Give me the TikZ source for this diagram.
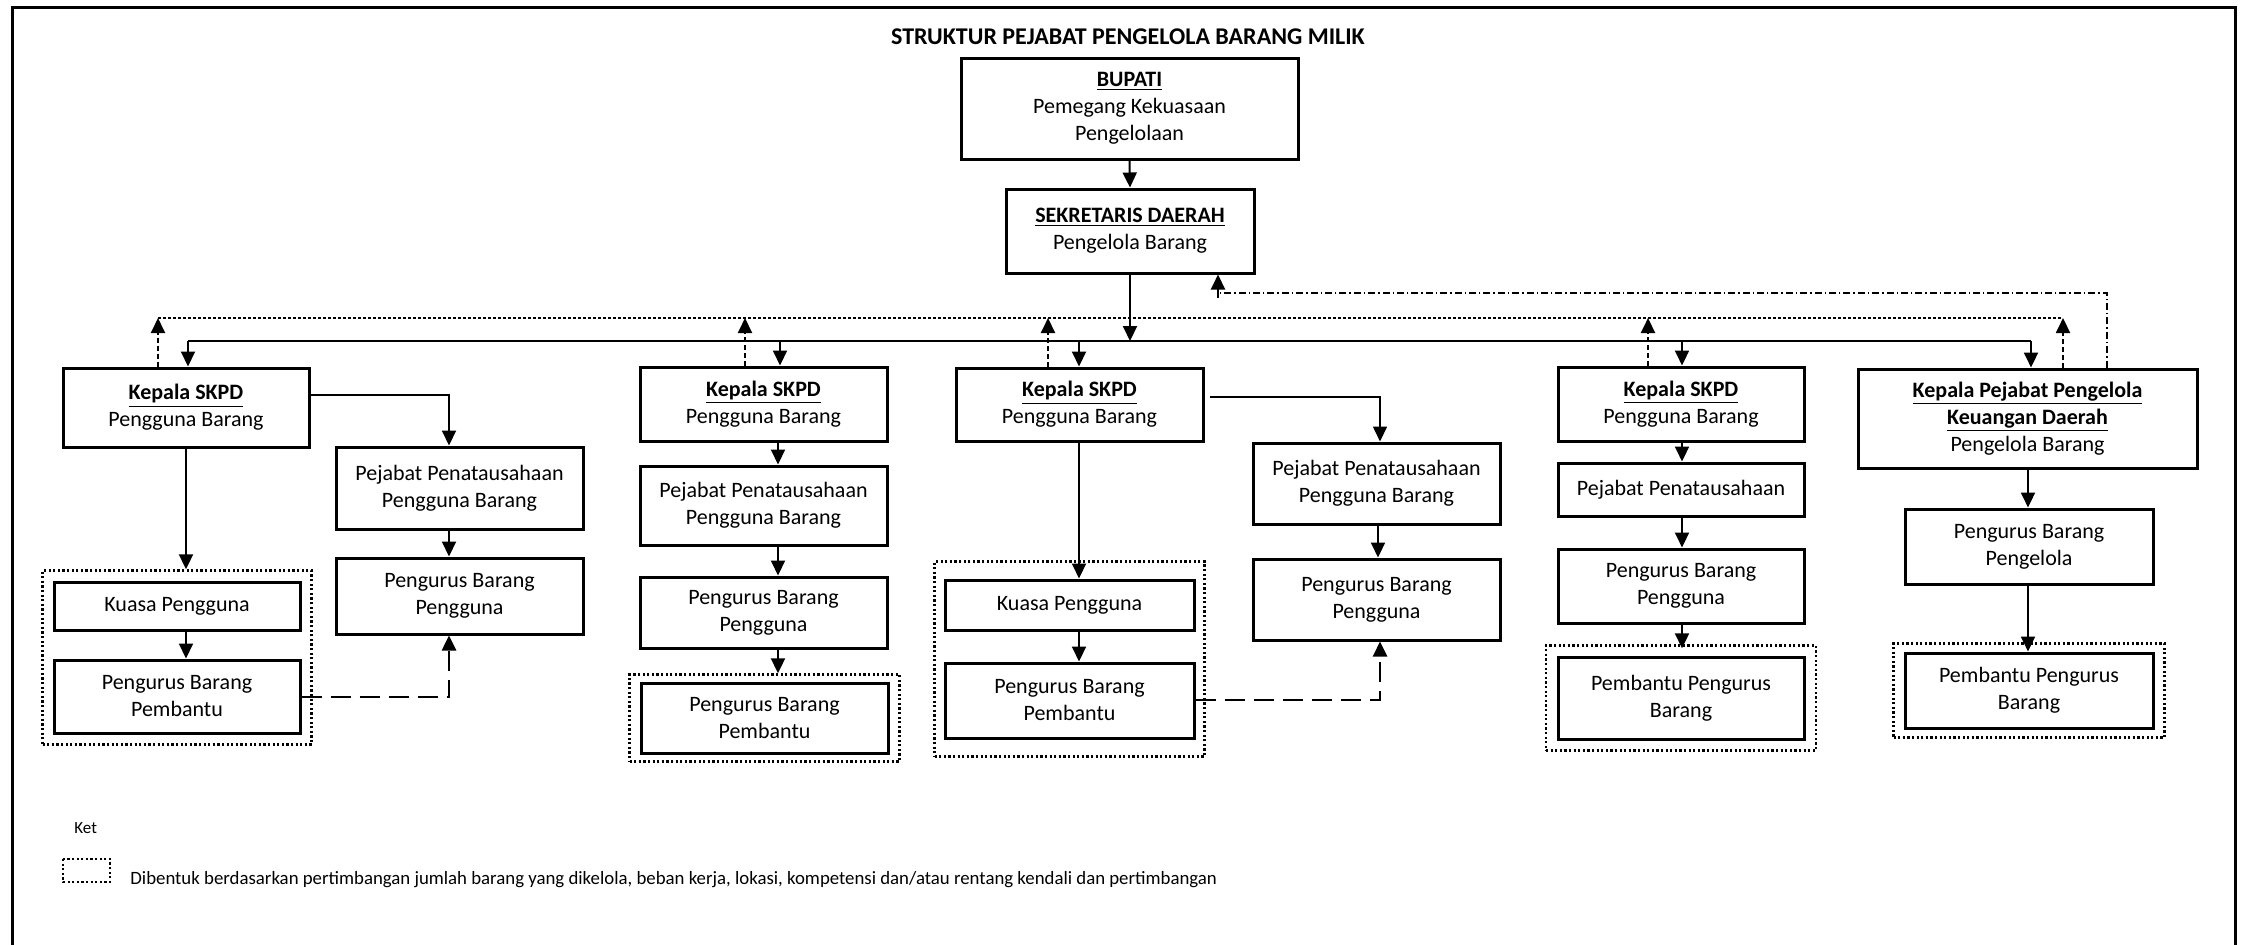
\documentclass[tikz,border=0pt]{standalone}
\usepackage{fontspec}
\setmainfont{Carlito}
\usetikzlibrary{arrows.meta,fit}

\tikzset{
	box/.style={draw, line width=1.5pt, align=center, inner sep=0pt,
		font=\fontsize{11}{13.5}\selectfont},
	grp/.style={draw, line width=1.2pt, dash pattern=on 1.1pt off 1.2pt, inner sep=0pt},
	arr/.style={line width=1pt, -{Triangle[width=7pt,length=7.5pt]}},
	lapor/.style={line width=1pt, dash pattern=on 2.5pt off 1.5pt, -{Triangle[width=7pt,length=7.5pt]}},
	bantu/.style={line width=1.3pt, dash pattern=on 10pt off 4.5pt, -{Triangle[width=7pt,length=7.5pt]}},
	jalur/.style={line width=0.6pt}
}
\newcommand{\kep}[1]{\underline{\textbf{#1}}}

\begin{document}
\begin{tikzpicture}[x=0.5pt, y=-0.5pt]
	\useasboundingbox (0,0) rectangle (2242,944);
	\def\yBagi{341}  %garis pembagian
	\def\yLapor{318} %garis laporan
	\def\yKeu{293}
	
	%Rahmen
	\draw[line width=1.5pt] (12,960) -- (12,7) -- (2235,7) -- (2235,960);
	\node[font=\fontsize{12}{14}\selectfont\bfseries] (judul) at (1128,37) {STRUKTUR PEJABAT PENGELOLA BARANG MILIK};
	
	%Pimpinan
	\node[box, minimum width=168.5pt, minimum height=50.5pt] (bupati) at (1129.5,108.5)
		{\kep{BUPATI}\\Pemegang Kekuasaan\\Pengelolaan};
	\node[box, minimum width=124pt, minimum height=42pt] (sekda) at (1130,231)
		{\kep{SEKRETARIS DAERAH}\\Pengelola Barang};
	
	%Kepala
	\node[box, minimum width=123pt, minimum height=39.5pt] (kpl1) at (186,407.5) {\kep{Kepala SKPD}\\Pengguna Barang};
	\node[box, minimum width=123.5pt, minimum height=37pt] (kpl2) at (763.5,404) {\kep{Kepala SKPD}\\Pengguna Barang};
	\node[box, minimum width=123.5pt, minimum height=36.5pt] (kpl3) at (1079.5,404.5) {\kep{Kepala SKPD}\\Pengguna Barang};
	\node[box, minimum width=123pt, minimum height=37pt] (kpl4) at (1681,404) {\kep{Kepala SKPD}\\Pengguna Barang};
	\node[box, minimum width=169.5pt, minimum height=49.5pt] (kpl5) at (2027.5,418.5)
		{\kep{Kepala Pejabat Pengelola}\\\kep{Keuangan Daerah}\\Pengelola Barang};
	
	%Kolom 1
	\node[box, minimum width=123.5pt, minimum height=41pt] (ppb1) at (459.5,488) {Pejabat Penatausahaan\\Pengguna Barang};
	\node[box, minimum width=123.5pt, minimum height=38pt] (pbg1) at (459.5,596) {Pengurus Barang\\Pengguna};
	\node[box, minimum width=123pt, minimum height=24pt] (kuasa1) at (177,606) {Kuasa Pengguna};
	\node[box, minimum width=123pt, minimum height=36.5pt] (pbp1) at (177,696.5) {Pengurus Barang\\Pembantu};
	\node[grp, fit=(kuasa1)(pbp1), inner xsep=5pt, inner ysep=5pt] (grp1) {};
	
	%Kolom 2
	\node[box, minimum width=123.5pt, minimum height=39.5pt] (ppb2) at (763.5,505.5) {Pejabat Penatausahaan\\Pengguna Barang};
	\node[box, minimum width=123.5pt, minimum height=35.5pt] (pbg2) at (763.5,612.5) {Pengurus Barang\\Pengguna};
	\node[box, minimum width=123.5pt, minimum height=35pt] (pbp2) at (764.5,718) {Pengurus Barang\\Pembantu};
	\node[grp, fit=(pbp2), inner xsep=5pt, inner ysep=3.5pt] (grp2) {};
	
	%Kolom 3
	\node[box, minimum width=124.5pt, minimum height=25pt] (kuasa3) at (1069.5,605) {Kuasa Pengguna};
	\node[box, minimum width=124.5pt, minimum height=37.5pt] (pbp3) at (1069.5,700.5) {Pengurus Barang\\Pembantu};
	\node[grp, fit=(kuasa3)(pbp3), inner xsep=4.5pt, inner ysep=8.5pt] (grp3) {};
	\node[box, minimum width=123.5pt, minimum height=40.5pt] (ppb3) at (1376.5,483.5) {Pejabat Penatausahaan\\Pengguna Barang};
	\node[box, minimum width=123.5pt, minimum height=40.5pt] (pbg3) at (1376.5,599.5) {Pengurus Barang\\Pengguna};
	
	%Kolom 4
	\node[box, minimum width=123pt, minimum height=26.5pt] (pp4) at (1681,489.5) {Pejabat Penatausahaan};
	\node[box, minimum width=123pt, minimum height=37pt] (pbg4) at (1681,586) {Pengurus Barang\\Pengguna};
	\node[box, minimum width=123pt, minimum height=41pt] (pbp4) at (1681,698) {Pembantu Pengurus\\Barang};
	\node[grp, fit=(pbp4), inner xsep=5.25pt, inner ysep=5pt] (grp4) {};
	
	%Kolom 5
	\node[box, minimum width=124pt, minimum height=37.5pt] (pbl5) at (2029,546.5) {Pengurus Barang\\Pengelola};
	\node[box, minimum width=124pt, minimum height=37.5pt] (pbp5) at (2029,690.5) {Pembantu Pengurus\\Barang};
	\node[grp, fit=(pbp5), inner xsep=5pt, inner ysep=4pt] (grp5) {};
	
	%Garis atas
	\coordinate (bagiA) at (188,\yBagi);
	\coordinate (bagiB) at (2031,\yBagi);
	\coordinate (laporA) at (158,\yLapor);
	\coordinate (laporB) at (2063,\yLapor);
	\coordinate (keuA) at (1218,\yKeu);
	\coordinate (keuB) at (2107,\yKeu);
	
	\draw[arr] (bupati.south) -- (sekda.north);
	\draw[arr] (sekda.south) -- (sekda.south |- bagiA);
	\draw[jalur] (bagiA) -- (bagiB);
	\draw[jalur, dash pattern=on 1.5pt off 1pt] (laporA) -- (laporB);
	\draw[jalur, dash pattern=on 3.5pt off 1.5pt on 0.7pt off 1.5pt] (kpl5.north -| keuB) -- (keuB) -- (keuA);
	\draw[arr] ([yshift=-2.5pt]keuA) -- (keuA |- sekda.south);
	
	\foreach \xa/\xb/\k in {188/158/kpl1, 780/745/kpl2, 1079/1048/kpl3, 1682/1648/kpl4, 2031/2063/kpl5}{
		\draw[arr] (\xa,\yBagi) -- (\k.north -| {(\xa,0)});
		\draw[lapor] (\k.north -| {(\xb,0)}) -- (\xb,\yLapor);
	}
	
	%Panah kolom 1
	\draw[arr] (kpl1.east |- {(0,395)}) -| (ppb1.north -| {(449,0)});
	\draw[arr] (ppb1.south -| {(449,0)}) -- (pbg1.north -| {(449,0)});
	\draw[arr] (kpl1.south -| {(186,0)}) -- (grp1.north -| {(186,0)});
	\draw[arr] (kuasa1.south -| {(186,0)}) -- (pbp1.north -| {(186,0)});
	\draw[bantu] (pbp1.east |- {(0,697)}) -| (pbg1.south -| {(449,0)});
	
	%Panah kolom 2
	\draw[arr] (kpl2.south -| {(778,0)}) -- (ppb2.north -| {(778,0)});
	\draw[arr] (ppb2.south -| {(778,0)}) -- (pbg2.north -| {(778,0)});
	\draw[arr] (pbg2.south -| {(778,0)}) -- (grp2.north -| {(778,0)});
	
	%Panah kolom 3
	\draw[arr] (kpl3.south -| {(1079,0)}) -- (kuasa3.north -| {(1079,0)});
	\draw[arr] (kuasa3.south -| {(1079,0)}) -- (pbp3.north -| {(1079,0)});
	\draw[jalur, line width=0.8pt, -{Triangle[width=7pt,length=7.5pt]}] (1210,397) -| (ppb3.north -| {(1380,0)});
	\draw[arr] (ppb3.south -| {(1378,0)}) -- (pbg3.north -| {(1378,0)});
	\draw[bantu] (pbp3.east |- {(0,700)}) -| (pbg3.south -| {(1380,0)});
	
	%Panah kolom 4
	\draw[arr] (kpl4.south -| {(1682,0)}) -- (pp4.north -| {(1682,0)});
	\draw[arr] (pp4.south -| {(1682,0)}) -- (pbg4.north -| {(1682,0)});
	\draw[arr] (pbg4.south -| {(1682,0)}) -- ([yshift=-2pt]grp4.north -| {(1682,0)});
	
	%Panah kolom 5
	\draw[arr] (kpl5.south -| {(2028,0)}) -- (pbl5.north -| {(2028,0)});
	\draw[arr] (pbl5.south -| {(2028,0)}) -- (pbp5.north -| {(2028,0)});
	
	%Keterangan
	\node[anchor=base west, font=\fontsize{8.5}{10}\selectfont, inner sep=0pt] (ket) at (74,833) {Ket};
	\draw[grp, line width=1pt] (63,859) rectangle (110,882);
	\node[anchor=base west, font=\fontsize{9.4}{11}\selectfont, inner sep=0pt] (ketisi) at (130,884)
		{Dibentuk berdasarkan pertimbangan jumlah barang yang dikelola, beban kerja, lokasi, kompetensi dan/atau rentang kendali dan pertimbangan};
\end{tikzpicture}
\end{document}
